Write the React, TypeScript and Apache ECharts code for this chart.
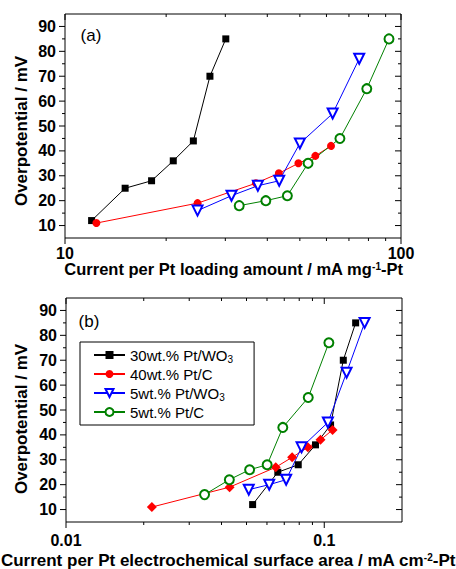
import React, { useEffect, useRef } from 'react';
import * as echarts from 'echarts';

const F = 'Liberation Sans, Arial, sans-serif';

const seriesNames = ['30wt.% Pt/WO3', '40wt.% Pt/C', '5wt.% Pt/WO3', '5wt.% Pt/C'];
const colors = ['#000000', '#ff0000', '#0000ff', '#008000'];

// (a) current per Pt loading amount (mA mg-1-Pt) vs overpotential (mV)
const aBlackX = [12.0, 15.1, 18.1, 21.0, 24.1, 27.0, 30.1];
const aBlackY = [12, 25, 28, 36, 44, 70, 85];
const aRedX = [12.4, 24.8, 37.0, 43.3, 49.5, 55.6, 61.9];
const aRedY = [11, 19, 27, 31, 35, 38, 42];
const aBlueX = [24.8, 31.3, 37.5, 43.4, 50.0, 62.6, 75.1];
const aBlueY = [16, 22, 26, 28, 43, 55, 77];
const aGreenX = [33.0, 39.6, 45.9, 52.9, 65.8, 79.1, 92.1];
const aGreenY = [18, 20, 22, 35, 45, 65, 85];

// (b) current per Pt electrochemical surface area (mA cm-2-Pt) vs overpotential (mV)
const bBlackX = [0.0528, 0.0661, 0.0793, 0.0925, 0.1058, 0.1185, 0.1323];
const bBlackY = [12, 25, 28, 36, 44, 70, 85];
const bRedX = [0.0215, 0.043, 0.0649, 0.0751, 0.0864, 0.0967, 0.1077];
const bRedY = [11, 19, 27, 31, 35, 38, 42];
const bBlueX = [0.051, 0.0612, 0.0712, 0.0817, 0.1033, 0.122, 0.1433];
const bBlueY = [18, 20, 22, 35, 45, 65, 85];
const bGreenX = [0.0344, 0.0429, 0.0514, 0.0601, 0.0691, 0.0867, 0.1042];
const bGreenY = [16, 22, 26, 28, 43, 55, 77];

// axis ranges & ticks
const aXRange = [10, 100];
const bXRange = [0.01, 0.2];
const yRange = [5, 95];
const aXMajor = [10, 100];
const aXMinor = [20, 30, 40, 50, 60, 70, 80, 90];
const bXMajor = [0.01, 0.1];
const bXMinor = [0.02, 0.03, 0.04, 0.05, 0.06, 0.07, 0.08, 0.09];
const yMajor = [10, 20, 30, 40, 50, 60, 70, 80, 90];
const yMinor = [15, 25, 35, 45, 55, 65, 75, 85];

const zip = (xs: number[], ys: number[]) => xs.map((x, i) => [x, ys[i]]);

const tickData = (xMaj: number[], xMin: number[], xLo: number) => [
  ...xMaj.map((x) => [x, yRange[0], 0]),
  ...xMin.map((x) => [x, yRange[0], 1]),
  ...yMajor.map((y) => [xLo, y, 2]),
  ...yMinor.map((y) => [xLo, y, 3]),
];

const renderTicks = (params: any, api: any) => {
  const cs = params.coordSys;
  const kind = api.value(2);
  const p = api.coord([api.value(0), api.value(1)]);
  const st = { stroke: '#000', lineWidth: 1 };
  const left = cs.x, right = cs.x + cs.width, top = cs.y, bottom = cs.y + cs.height;
  if (kind < 2) {
    const len = kind === 0 ? 6 : 3;
    const x = p[0];
    return {
      type: 'group',
      children: [
        { type: 'line', shape: { x1: x, y1: bottom, x2: x, y2: bottom + len }, style: st },
        { type: 'line', shape: { x1: x, y1: top, x2: x, y2: top + len }, style: st },
      ],
    };
  }
  const len = kind === 2 ? 6 : 3;
  const y = p[1];
  return {
    type: 'group',
    children: [
      { type: 'line', shape: { x1: left - len, y1: y, x2: left, y2: y }, style: st },
      { type: 'line', shape: { x1: right - len, y1: y, x2: right, y2: y }, style: st },
    ],
  };
};

const decadeLabel = (v: number) => {
  const l = Math.log10(v);
  if (Math.abs(l - Math.round(l)) > 1e-6) return '';
  return String(Number(v.toPrecision(4)));
};

const labelStyle = { fontSize: 16, fontWeight: 'bold' as const, color: '#000', fontFamily: F };

const mkX = (grid: number, range: number[], margin: number) => ({
  type: 'log',
  logBase: 10,
  gridIndex: grid,
  min: range[0],
  max: range[1],
  axisLine: { show: false },
  axisTick: { show: false },
  splitLine: { show: false },
  minorTick: { show: false },
  axisLabel: { ...labelStyle, margin, lineHeight: 15, formatter: decadeLabel },
});

const mkY = (grid: number) => ({
  type: 'value',
  gridIndex: grid,
  min: yRange[0],
  max: yRange[1],
  interval: 5,
  axisLine: { show: false },
  axisTick: { show: false },
  splitLine: { show: false },
  axisLabel: {
    ...labelStyle,
    margin: 9,
    formatter: (v: number) => (v % 10 === 0 && v >= 10 && v <= 90 ? String(v) : ''),
  },
});

const mkSeries = (
  idx: number,
  name: string,
  xs: number[],
  ys: number[],
  symbol: string,
  size: number,
  color: string,
  extra: any = {}
) => ({
  type: 'line',
  name,
  xAxisIndex: idx,
  yAxisIndex: idx,
  data: zip(xs, ys),
  symbol,
  symbolSize: size,
  color,
  lineStyle: { color, width: 1 },
  itemStyle: { color, borderWidth: extra.borderWidth ?? 1 },
  symbolRotate: extra.rotate ?? 0,
  showAllSymbol: true,
  z: 3,
});

export default function App() {
  const ref = useRef<HTMLDivElement>(null);
  useEffect(() => {
    if (!ref.current) return;
    const chart = echarts.init(ref.current, undefined, { renderer: 'svg' });
    const option: any = {
      animation: false,
      backgroundColor: '#ffffff',
      grid: [
        { left: 65, top: 14, width: 336, height: 224, show: true, borderColor: '#000', borderWidth: 1, backgroundColor: 'transparent' },
        { left: 66, top: 298, width: 336, height: 224, show: true, borderColor: '#000', borderWidth: 1, backgroundColor: 'transparent' },
      ],
      xAxis: [mkX(0, aXRange, 8), mkX(1, bXRange, 11)],
      yAxis: [mkY(0), mkY(1)],
      legend: {
        data: seriesNames,
        orient: 'vertical',
        left: 80,
        top: 342,
        itemWidth: 31,
        itemHeight: 10,
        itemGap: 1,
        padding: [4, 21, 4, 13],
        borderColor: '#000',
        borderWidth: 1,
        selectedMode: false,
        formatter: (n: string) => n.replace('WO3', 'WO{sub|3}'),
        textStyle: {
          fontSize: 15,
          color: '#000',
          fontFamily: F,
          lineHeight: 18,
          rich: { sub: { fontSize: 10, lineHeight: 18, verticalAlign: 'bottom', fontFamily: F, color: '#000' } },
        },
      },
      series: [
        mkSeries(0, seriesNames[0], aBlackX, aBlackY, 'rect', 7, colors[0]),
        mkSeries(0, seriesNames[1], aRedX, aRedY, 'circle', 8, colors[1]),
        mkSeries(0, seriesNames[2], aBlueX, aBlueY, 'emptyTriangle', 10, colors[2], { rotate: 180 }),
        mkSeries(0, seriesNames[3], aGreenX, aGreenY, 'emptyCircle', 9, colors[3], { borderWidth: 2 }),
        mkSeries(1, seriesNames[0], bBlackX, bBlackY, 'rect', 7, colors[0]),
        mkSeries(1, seriesNames[1], bRedX, bRedY, 'diamond', 10, colors[1]),
        mkSeries(1, seriesNames[2], bBlueX, bBlueY, 'emptyTriangle', 10, colors[2], { rotate: 180 }),
        mkSeries(1, seriesNames[3], bGreenX, bGreenY, 'emptyCircle', 9, colors[3], { borderWidth: 2 }),
        {
          type: 'custom',
          xAxisIndex: 0,
          yAxisIndex: 0,
          clip: false,
          silent: true,
          data: tickData(aXMajor, aXMinor, aXRange[0]),
          renderItem: renderTicks,
          z: 5,
        },
        {
          type: 'custom',
          xAxisIndex: 1,
          yAxisIndex: 1,
          clip: false,
          silent: true,
          data: tickData(bXMajor, bXMinor, bXRange[0]),
          renderItem: renderTicks,
          z: 5,
        },
      ],
      graphic: [
        { type: 'text', x: 91, y: 35.5, style: { text: '(a)', fontSize: 17, fontFamily: F, fill: '#000', align: 'center', verticalAlign: 'middle' } },
        { type: 'text', x: 89, y: 321, style: { text: '(b)', fontSize: 17, fontFamily: F, fill: '#000', align: 'center', verticalAlign: 'middle' } },
        { type: 'text', x: 21, y: 131, rotation: Math.PI / 2, style: { text: 'Overpotential / mV', fontSize: 17, fontWeight: 'bold', fontFamily: F, fill: '#000', align: 'center', verticalAlign: 'middle' } },
        { type: 'text', x: 21, y: 419, rotation: Math.PI / 2, style: { text: 'Overpotential / mV', fontSize: 17, fontWeight: 'bold', fontFamily: F, fill: '#000', align: 'center', verticalAlign: 'middle' } },
        {
          type: 'text', x: 233.5, y: 269,
          style: {
            text: 'Current per Pt loading amount / mA mg{sup|-1}-Pt',
            fontSize: 16.5, fontWeight: 'bold', fontFamily: F, fill: '#000', align: 'center', verticalAlign: 'middle', lineHeight: 16,
            rich: { sup: { fontSize: 10, fontWeight: 'bold', fontFamily: F, fill: '#000', verticalAlign: 'top', lineHeight: 16 } },
          },
        },
        {
          type: 'text', x: 228, y: 560,
          style: {
            text: 'Current per Pt electrochemical surface area / mA cm{sup|-2}-Pt',
            fontSize: 17, fontWeight: 'bold', fontFamily: F, fill: '#000', align: 'center', verticalAlign: 'middle', lineHeight: 16,
            rich: { sup: { fontSize: 10, fontWeight: 'bold', fontFamily: F, fill: '#000', verticalAlign: 'top', lineHeight: 16 } },
          },
        },
      ],
    };
    chart.setOption(option);
    return () => chart.dispose();
  }, []);
  return <div ref={ref} style={{ position: 'absolute', left: 0, top: 0, width: 456, height: 569 }} />;
}
